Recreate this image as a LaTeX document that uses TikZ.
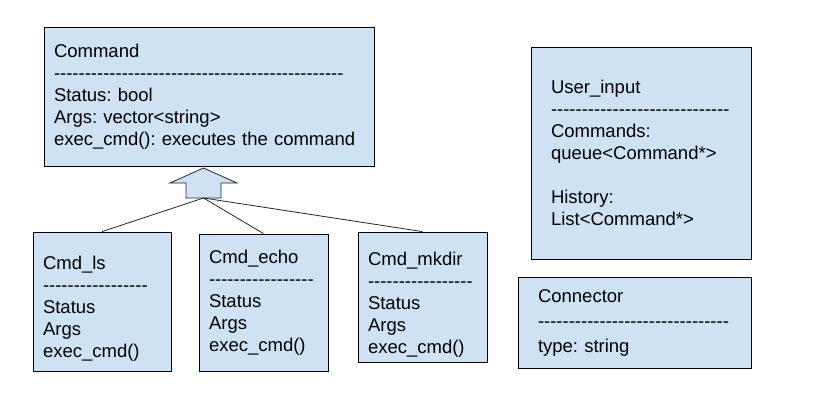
\documentclass[tikz,border=0pt]{standalone}
\usepackage{fontspec}
\setmainfont{Liberation Sans}[Ligatures=TeXOff]
\definecolor{boxblue}{HTML}{CFE2F3}
\exhyphenpenalty=10000
\hyphenpenalty=10000
\frenchspacing
\newcommand\dashline[1]{\foreach\k in {1,...,#1}{-}}
\newcommand\topstrut[1]{\rule{0pt}{#1}}
\tikzset{
  classbox/.style={draw=black, fill=boxblue, line width=0.8pt, align=left,
    inner ysep=0pt, font=\fontsize{18.5}{22}\selectfont\frenchspacing},
  link/.style={draw=black!85, line width=0.8pt},
}
\begin{document}
\begin{tikzpicture}[x=1pt,y=-1pt]
\useasboundingbox[fill=white] (0,0) rectangle (815,415);
\node[classbox, inner xsep=10pt, text width=310pt, minimum height=139pt] (command) at (209,96.5)
  {Command\\\dashline{47}\\Status: bool\\Args: vector<string>\\exec\_cmd(): executes the command};
\node[classbox, inner xsep=10pt, text width=118pt, minimum height=139pt] (ls) at (102,301.5)
  {\topstrut{27pt}Cmd\_ls\\\dashline{17}\\Status\\Args\\exec\_cmd()};
\node[classbox, inner xsep=10pt, text width=109pt, minimum height=137pt] (echo) at (263.5,302.5)
  {Cmd\_echo\\\dashline{17}\\Status\\Args\\exec\_cmd()};
\node[classbox, inner xsep=10pt, text width=109pt, minimum height=130pt] (mkdir) at (422.5,297)
  {\topstrut{29pt}Cmd\_mkdir\\\dashline{17}\\Status\\Args\\exec\_cmd()};
\node[classbox, inner xsep=20pt, text width=180pt, minimum height=212pt] (input) at (641,153)
  {User\_input\\\dashline{29}\\Commands:\\queue<Command*>\\[22pt]History:\\List<Command*>};
\node[classbox, inner xsep=20pt, text width=193pt, minimum height=91pt] (connector) at (634.5,322.5)
  {Connector\\[3pt]\dashline{31}\\[3pt]type: string};
\draw[link, fill=boxblue] (203.5,168) -- (237,183) -- (221,183) -- (221,198) -- (186,198)
  -- (186,183) -- (170,183) -- cycle;
\coordinate (base) at (203.5,198);
\draw[link] (base) -- (ls.north);
\draw[link] (base) -- (echo.north);
\draw[link] (base) -- (mkdir.north);
\end{tikzpicture}
\end{document}
